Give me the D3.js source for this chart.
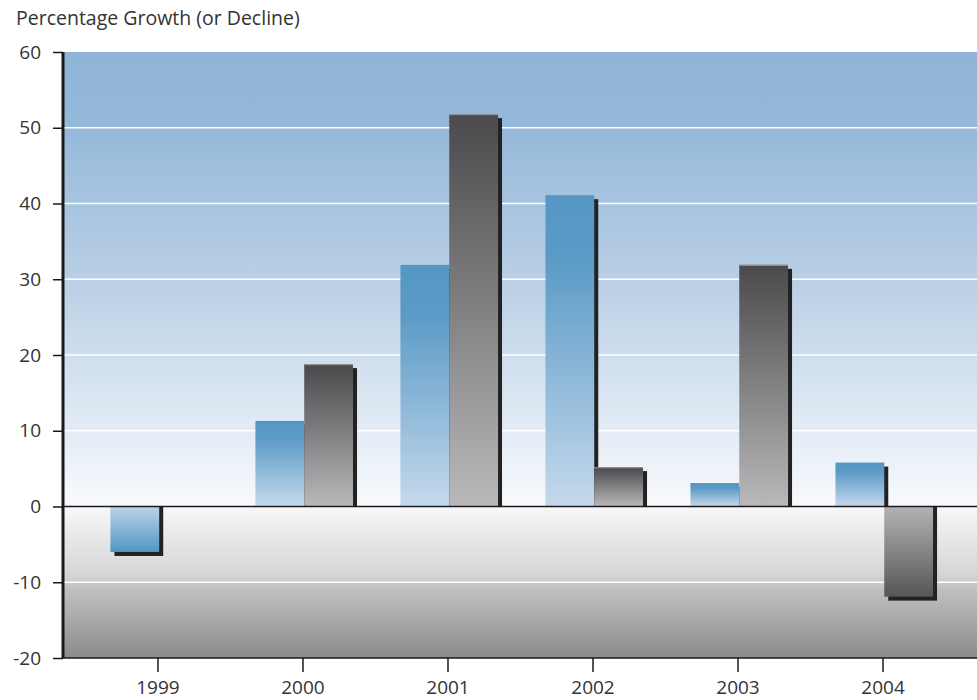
<!DOCTYPE html>
<html>
<head>
<meta charset="utf-8">
<script src="https://cdn.jsdelivr.net/npm/d3@7"></script>
<style>
  html, body { margin: 0; padding: 0; background: #ffffff; }
  svg { display: block; }
  text { font-family: "Open Sans", "Noto Sans", sans-serif; fill: #333333; }
</style>
</head>
<body>
<svg id="chart" width="977" height="700"></svg>
<script>
// Years along the x axis
const years = ["1999", "2000", "2001", "2002", "2003", "2004"];
// Percentage growth, first (blue) series
const blueValues = [-6.0, 11.3, 31.9, 41.1, 3.1, 5.8];
// Percentage growth, second (grey) series; null = no bar
const greyValues = [null, 18.8, 51.8, 5.2, 31.9, -11.9];
// Y axis ticks
const yTicks = [-20, -10, 0, 10, 20, 30, 40, 50, 60];
const yTitle = "Percentage Growth (or Decline)";

const FONT = '"Open Sans", "Noto Sans", sans-serif';
const svg = d3.select("#chart");
const margin = { top: 52, left: 63 };
const plotW = 915, plotH = 606;

const g = svg.append("g").attr("transform", `translate(${margin.left},${margin.top})`);

const y = d3.scaleLinear().domain([-20, 60]).range([plotH, 0]);
const x = d3.scaleBand().domain(years).range([0, plotW]).paddingInner(0).paddingOuter(0.155);
const sub = d3.scaleBand().domain(["blue", "grey"])
  .range([x.bandwidth() * 0.172, x.bandwidth() * 0.845]);

const defs = svg.append("defs");
function grad(id, stops, y1, y2, units) {
  const lg = defs.append("linearGradient").attr("id", id)
    .attr("x1", 0).attr("x2", 0).attr("y1", y1).attr("y2", y2);
  if (units) lg.attr("gradientUnits", units);
  stops.forEach(([o, c]) => lg.append("stop").attr("offset", o).attr("stop-color", c));
}
const y0 = y(0);
// Plot background: blue above zero, grey below
grad("bgPos", [[0, "#8fb4d6"], [0.15, "#94b8d9"], [0.5, "#b9cfe5"], [0.8, "#dfe9f4"], [1, "#f8fafd"]],
  0, y0, "userSpaceOnUse");
grad("bgNeg", [[0, "#f8f8f8"], [0.45, "#d5d5d6"], [0.55, "#c0c0c2"], [1, "#8b8b8e"]],
  y0, plotH, "userSpaceOnUse");
// Bar fills
grad("bluePos", [[0, "#5597c4"], [0.2, "#5a9ac6"], [1, "#c5d9ec"]], 0, 1);
grad("blueNeg", [[0, "#bcd3e8"], [1, "#5096c4"]], 0, 1);
grad("greyPos", [[0, "#4a4a4c"], [1, "#b9b9bb"]], 0, 1);
grad("greyNeg", [[0, "#b3b3b5"], [1, "#565658"]], 0, 1);

g.append("rect").attr("x", 0).attr("y", 0).attr("width", plotW).attr("height", y0)
  .attr("fill", "url(#bgPos)");
g.append("rect").attr("x", 0).attr("y", y0).attr("width", plotW).attr("height", plotH - y0)
  .attr("fill", "url(#bgNeg)");

// White grid lines
g.append("g").selectAll("line")
  .data(yTicks.filter(t => t !== 0 && t !== -20 && t !== 60))
  .join("line")
  .attr("x1", 0).attr("x2", plotW)
  .attr("y1", d => y(d)).attr("y2", d => y(d))
  .attr("stroke", "#ffffff").attr("stroke-width", 1.5);

// Bars
const bars = [];
years.forEach((yr, i) => {
  if (blueValues[i] != null) bars.push({ yr, key: "blue", v: blueValues[i] });
  if (greyValues[i] != null) bars.push({ yr, key: "grey", v: greyValues[i] });
});
const off = 4;
const barG = g.append("g");
bars.forEach(d => {
  const bx = x(d.yr) + sub(d.key);
  const bw = sub.bandwidth();
  const top = y(Math.max(0, d.v)), bot = y(Math.min(0, d.v));
  // drop shadow, kept on the bar's side of the zero line
  if (d.v > 0) {
    barG.append("rect").attr("x", bx + off).attr("y", top + off)
      .attr("width", bw).attr("height", Math.max(0, bot - top - off))
      .attr("fill", "#222222");
  } else {
    barG.append("rect").attr("x", bx + off).attr("y", top)
      .attr("width", bw).attr("height", bot - top + off)
      .attr("fill", "#222222");
  }
  barG.append("rect").attr("x", bx).attr("y", top)
    .attr("width", bw).attr("height", bot - top)
    .attr("fill", `url(#${d.key}${d.v > 0 ? "Pos" : "Neg"})`);
  // light bevel on the top edge of rising grey bars
  if (d.v > 0 && d.key === "grey") {
    barG.append("line").attr("x1", bx).attr("x2", bx + bw)
      .attr("y1", top + 0.5).attr("y2", top + 0.5)
      .attr("stroke", "#8a8f96").attr("stroke-width", 1.2);
  }
});

// Zero line
g.append("line").attr("x1", 0).attr("x2", plotW).attr("y1", y0).attr("y2", y0)
  .attr("stroke", "#1a1a1a").attr("stroke-width", 1.5);

// Y axis
const yAxis = g.append("g").call(d3.axisLeft(y).tickValues(yTicks)
  .tickFormat(d => String(d)).tickSize(10).tickPadding(12));
yAxis.select(".domain").remove();
yAxis.selectAll(".tick line").attr("stroke", "#1a1a1a").attr("stroke-width", 1.5);
yAxis.selectAll(".tick text").attr("font-size", 19).attr("fill", "#333333")
  .style("font-family", FONT);
g.append("line").attr("x1", 0).attr("x2", 0).attr("y1", 0).attr("y2", plotH)
  .attr("stroke", "#1a1a1a").attr("stroke-width", 3);

// X axis
const xAxis = g.append("g").attr("transform", `translate(0,${plotH})`)
  .call(d3.axisBottom(x).tickSize(14).tickPadding(9));
xAxis.select(".domain").remove();
xAxis.selectAll(".tick line").attr("stroke", "#1a1a1a").attr("stroke-width", 1.5);
xAxis.selectAll(".tick text").attr("font-size", 19).attr("fill", "#333333")
  .style("font-family", FONT);
g.append("line").attr("x1", 0).attr("x2", plotW).attr("y1", plotH).attr("y2", plotH)
  .attr("stroke", "#1a1a1a").attr("stroke-width", 1.5);

// Axis title
svg.append("text").attr("x", 16).attr("y", 25).attr("font-size", 19.5).text(yTitle);
</script>
</body>
</html>
